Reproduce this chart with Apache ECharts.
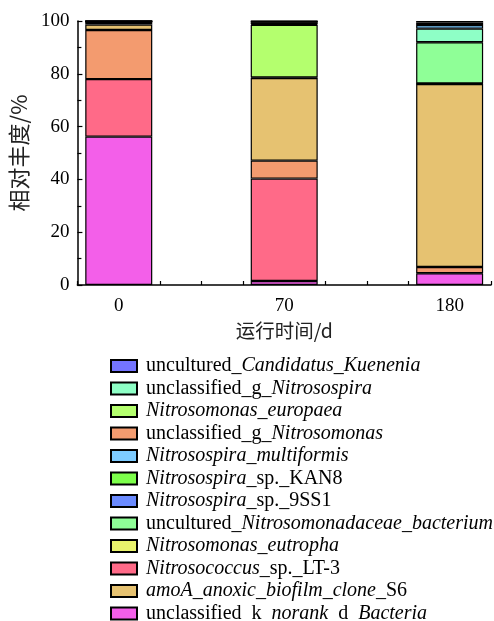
<!DOCTYPE html>
<html>
<head>
<meta charset="utf-8">
<script src="https://cdn.jsdelivr.net/npm/echarts@6/dist/echarts.min.js"></script>
<style>
  html, body { margin: 0; padding: 0; background: #fff; }
  #chart { width: 494px; height: 621px; }
</style>
</head>
<body>
<div id="chart"></div>
<script>
// Sampling days
const timeLabels = ['0', '70', '180'];

// Taxa in stacking order, bottom to top
const taxa = [
  'unclassified_k_norank_d_Bacteria',
  'Nitrosococcus_sp._LT-3',
  'unclassified_g_Nitrosomonas',
  'amoA_anoxic_biofilm_clone_S6',
  'Nitrosomonas_eutropha',
  'Nitrosomonas_europaea',
  'uncultured_Nitrosomonadaceae_bacterium',
  'Nitrosospira_sp._KAN8',
  'unclassified_g_Nitrosospira',
  'Nitrosospira_multiformis',
  'Nitrosospira_sp._9SS1',
  'uncultured_Candidatus_Kuenenia'
];

const taxaColors = [
  '#f35fe9', '#ff6a88', '#f39b6f', '#e6c271', '#e9f36c', '#b4ff6e',
  '#8fff97', '#7dff4b', '#8effc6', '#7dcbff', '#6b8bff', '#7474ff'
];

// Relative abundance (%) per day, same order as taxa
const day0   = [56.2, 21.8, 18.6,  2.1, 0.9, 0.1,  0.1, 0.05, 0.05, 0.05, 0.03, 0.02];
const day70  = [ 1.5, 38.8,  6.8, 31.3, 0.2, 20.0, 0.3, 0.6,  0.2,  0.1,  0.1,  0.1];
const day180 = [ 4.4,  0.1,  2.3, 69.3, 0.1, 0.1, 15.6, 0.1,  5.1,  1.4,  0.9,  0.6];
const days = [day0, day70, day180];

// Legend order, top to bottom
const legendOrder = [
  'uncultured_Candidatus_Kuenenia',
  'unclassified_g_Nitrosospira',
  'Nitrosomonas_europaea',
  'unclassified_g_Nitrosomonas',
  'Nitrosospira_multiformis',
  'Nitrosospira_sp._KAN8',
  'Nitrosospira_sp._9SS1',
  'uncultured_Nitrosomonadaceae_bacterium',
  'Nitrosomonas_eutropha',
  'Nitrosococcus_sp._LT-3',
  'amoA_anoxic_biofilm_clone_S6',
  'unclassified_k_norank_d_Bacteria'
];

// Legend labels with italic genus / species parts
const legendText = {
  'uncultured_Candidatus_Kuenenia': 'uncultured_{i|Candidatus_Kuenenia}',
  'unclassified_g_Nitrosospira': 'unclassified_g_{i|Nitrosospira}',
  'Nitrosomonas_europaea': '{i|Nitrosomonas_europaea}',
  'unclassified_g_Nitrosomonas': 'unclassified_g_{i|Nitrosomonas}',
  'Nitrosospira_multiformis': '{i|Nitrosospira_multiformis}',
  'Nitrosospira_sp._KAN8': '{i|Nitrosospira}_sp._KAN8',
  'Nitrosospira_sp._9SS1': '{i|Nitrosospira}_sp._9SS1',
  'uncultured_Nitrosomonadaceae_bacterium': 'uncultured_{i|Nitrosomonadaceae_bacterium}',
  'Nitrosomonas_eutropha': '{i|Nitrosomonas_eutropha}',
  'Nitrosococcus_sp._LT-3': '{i|Nitrosococcus}_sp._LT-3',
  'amoA_anoxic_biofilm_clone_S6': '{i|amoA_anoxic_biofilm_clone}_S6',
  'unclassified_k_norank_d_Bacteria': 'unclassified_k_{i|norank}_d_{i|Bacteria}'
};

const serif = 'Liberation Serif, Times New Roman, serif';
const cjk = 'Noto Sans CJK SC, sans-serif';

// The time axis is split into quarter-steps so ticks fall between the days;
// each day sits on every fourth slot, with one spare slot at each end.
const stepsPerDay = 4;
const slotCount = stepsPerDay * (timeLabels.length - 1) + 3;
const xSlots = new Array(slotCount).fill('');
const daySlot = i => 1 + stepsPerDay * i;
timeLabels.forEach((t, i) => { xSlots[daySlot(i)] = t; });

const series = taxa.map((name, k) => {
  const data = new Array(slotCount).fill('-');
  days.forEach((d, i) => { data[daySlot(i)] = d[k]; });
  return {
    name: name,
    type: 'bar',
    stack: 'total',
    barWidth: 67,
    itemStyle: { color: taxaColors[k], borderColor: '#000', borderWidth: 1.2 },
    data: data
  };
});

const chart = echarts.init(document.getElementById('chart'), null, { renderer: 'canvas' });
chart.setOption({
  animation: false,
  backgroundColor: '#fff',
  grid: { left: 77, right: 1, top: 21, bottom: 336, containLabel: false },
  xAxis: {
    type: 'category',
    data: xSlots,
    boundaryGap: false,
    name: '运行时间/d',
    nameLocation: 'middle',
    nameGap: 36,
    nameTextStyle: { fontFamily: cjk, fontSize: 19.5, color: '#222' },
    axisLine: { show: true, lineStyle: { color: '#000', width: 1.5 } },
    axisTick: { show: true, inside: true, length: 4, interval: 0, lineStyle: { color: '#000', width: 1.2 } },
    axisLabel: { color: '#000', fontFamily: serif, fontSize: 19, margin: 12, interval: 0 },
    splitLine: { show: false }
  },
  yAxis: {
    type: 'value',
    min: 0,
    max: 100,
    interval: 20,
    name: '相对丰度/%',
    nameLocation: 'middle',
    nameRotate: 90,
    nameGap: 43,
    nameTextStyle: { fontFamily: cjk, fontSize: 22, color: '#222' },
    axisLine: { show: true, lineStyle: { color: '#000', width: 1.5 } },
    axisTick: { show: true, inside: true, length: 5, lineStyle: { color: '#000', width: 1.2 } },
    minorTick: { show: true, splitNumber: 2, length: 4, lineStyle: { color: '#000', width: 1.2 } },
    axisLabel: { color: '#000', fontFamily: serif, fontSize: 19, margin: 8 },
    splitLine: { show: false }
  },
  legend: {
    orient: 'vertical',
    left: 110,
    top: 356,
    height: 290,
    padding: 0,
    itemWidth: 26,
    itemHeight: 12,
    itemGap: 2.5,
    selectedMode: false,
    icon: 'rect',
    data: legendOrder,
    formatter: name => legendText[name],
    textStyle: {
      color: '#000', fontFamily: serif, fontSize: 20, padding: [0, 0, 0, 4],
      rich: { i: { fontStyle: 'italic', fontFamily: serif, fontSize: 20, color: '#000' } }
    }
  },
  series: series
});
</script>
</body>
</html>
